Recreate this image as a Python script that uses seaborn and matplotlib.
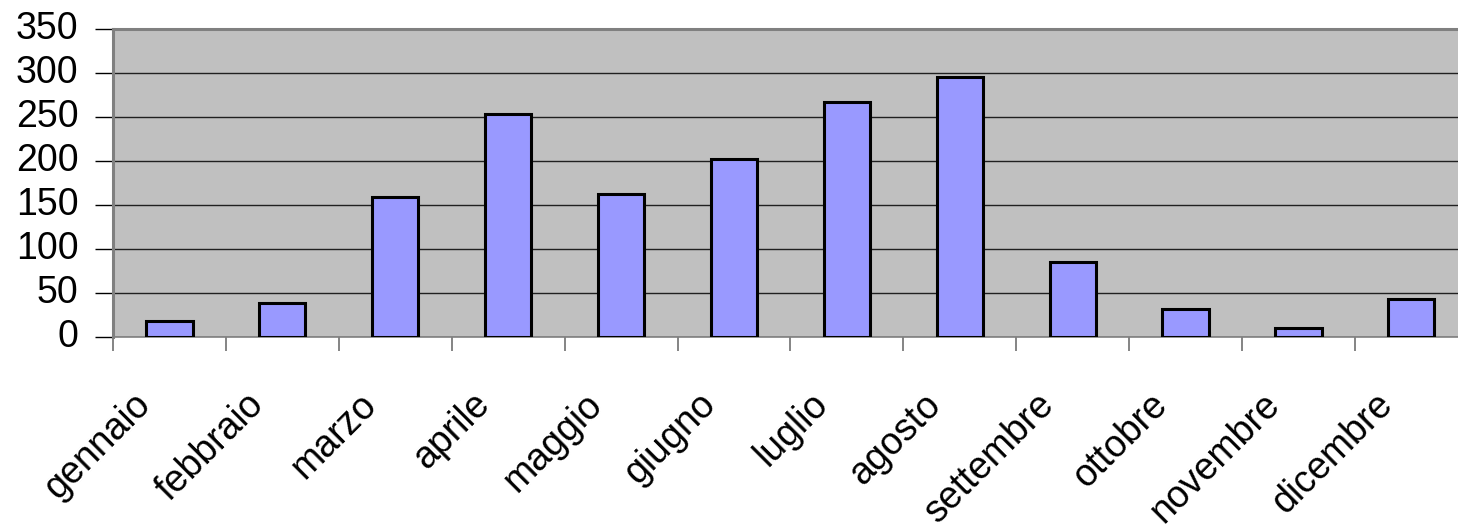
import matplotlib
matplotlib.use("Agg")
import matplotlib.pyplot as plt
from matplotlib.transforms import ScaledTranslation, blended_transform_factory
import seaborn as sns
import pandas as pd

# Monthly totals
mesi = ["gennaio", "febbraio", "marzo", "aprile", "maggio", "giugno",
        "luglio", "agosto", "settembre", "ottobre", "novembre", "dicembre"]
valori = [18, 39, 159, 253, 162, 202, 267, 295, 85, 32, 10, 43]
y_ticks = [0, 50, 100, 150, 200, 250, 300, 350]

sns.set_theme(style="white")
plt.rcParams["font.family"] = ["Liberation Sans", "DejaVu Sans"]

DPI = 100
W, H = 1458, 528
fig = plt.figure(figsize=(W / DPI, H / DPI), dpi=DPI)

# plot area in pixels: left 113, top 29, zero line at 337, 12 slots of ~112.9 px
left, top, bottom_px = 113, 29, 337
slot = 112.9
ax = fig.add_axes([left / W, (H - bottom_px) / H,
                   12 * slot / W, (bottom_px - top) / H])

df = pd.DataFrame({"mese": mesi, "valore": valori})
sns.barplot(data=df, x="mese", y="valore", ax=ax, color="#9999FF",
            saturation=1, width=0.41, edgecolor="black", linewidth=2.2,
            zorder=3)
for p in ax.patches:
    p.set_facecolor("#9999FF")
    p.set_joinstyle("miter")

ax.set_facecolor("#C0C0C0")
ax.set_xlim(-0.5, len(mesi) - 0.5)
ax.set_ylim(0, 350)
ax.set_xlabel("")
ax.set_ylabel("")

# horizontal gridlines
ax.set_yticks(y_ticks)
ax.yaxis.grid(True, color="#202020", linewidth=1.0, zorder=1)
ax.set_axisbelow(True)
ax.tick_params(axis="y", length=13, width=1.0, color="black", pad=12,
               labelsize=27, labelcolor="black", left=True)
lift = ScaledTranslation(0, 4 / DPI, fig.dpi_scale_trans)
for lab in ax.get_yticklabels():
    lab.set_transform(lab.get_transform() + lift)

# category boundary ticks below the axis
ax.set_xticks([i - 0.5 for i in range(len(mesi) + 1)])
ax.set_xticklabels([])
ax.tick_params(axis="x", length=10, width=1.2, color="#707070", bottom=True,
               direction="out")

for side in ["top", "left"]:
    ax.spines[side].set_color("#808080")
    ax.spines[side].set_linewidth(2.2)
ax.spines["bottom"].set_color("#808080")
ax.spines["bottom"].set_linewidth(1.2)
ax.spines["right"].set_visible(False)

# rotated month labels
trans = blended_transform_factory(ax.transData, ax.transAxes) + \
    ScaledTranslation(-24 / DPI, -62 / DPI, fig.dpi_scale_trans)
for i, m in enumerate(mesi):
    ax.text(i, 0, m, transform=trans, rotation=45, rotation_mode="anchor",
            ha="right", va="center", fontsize=27, color="black")

fig.savefig("out.png", dpi=DPI, facecolor="white")
